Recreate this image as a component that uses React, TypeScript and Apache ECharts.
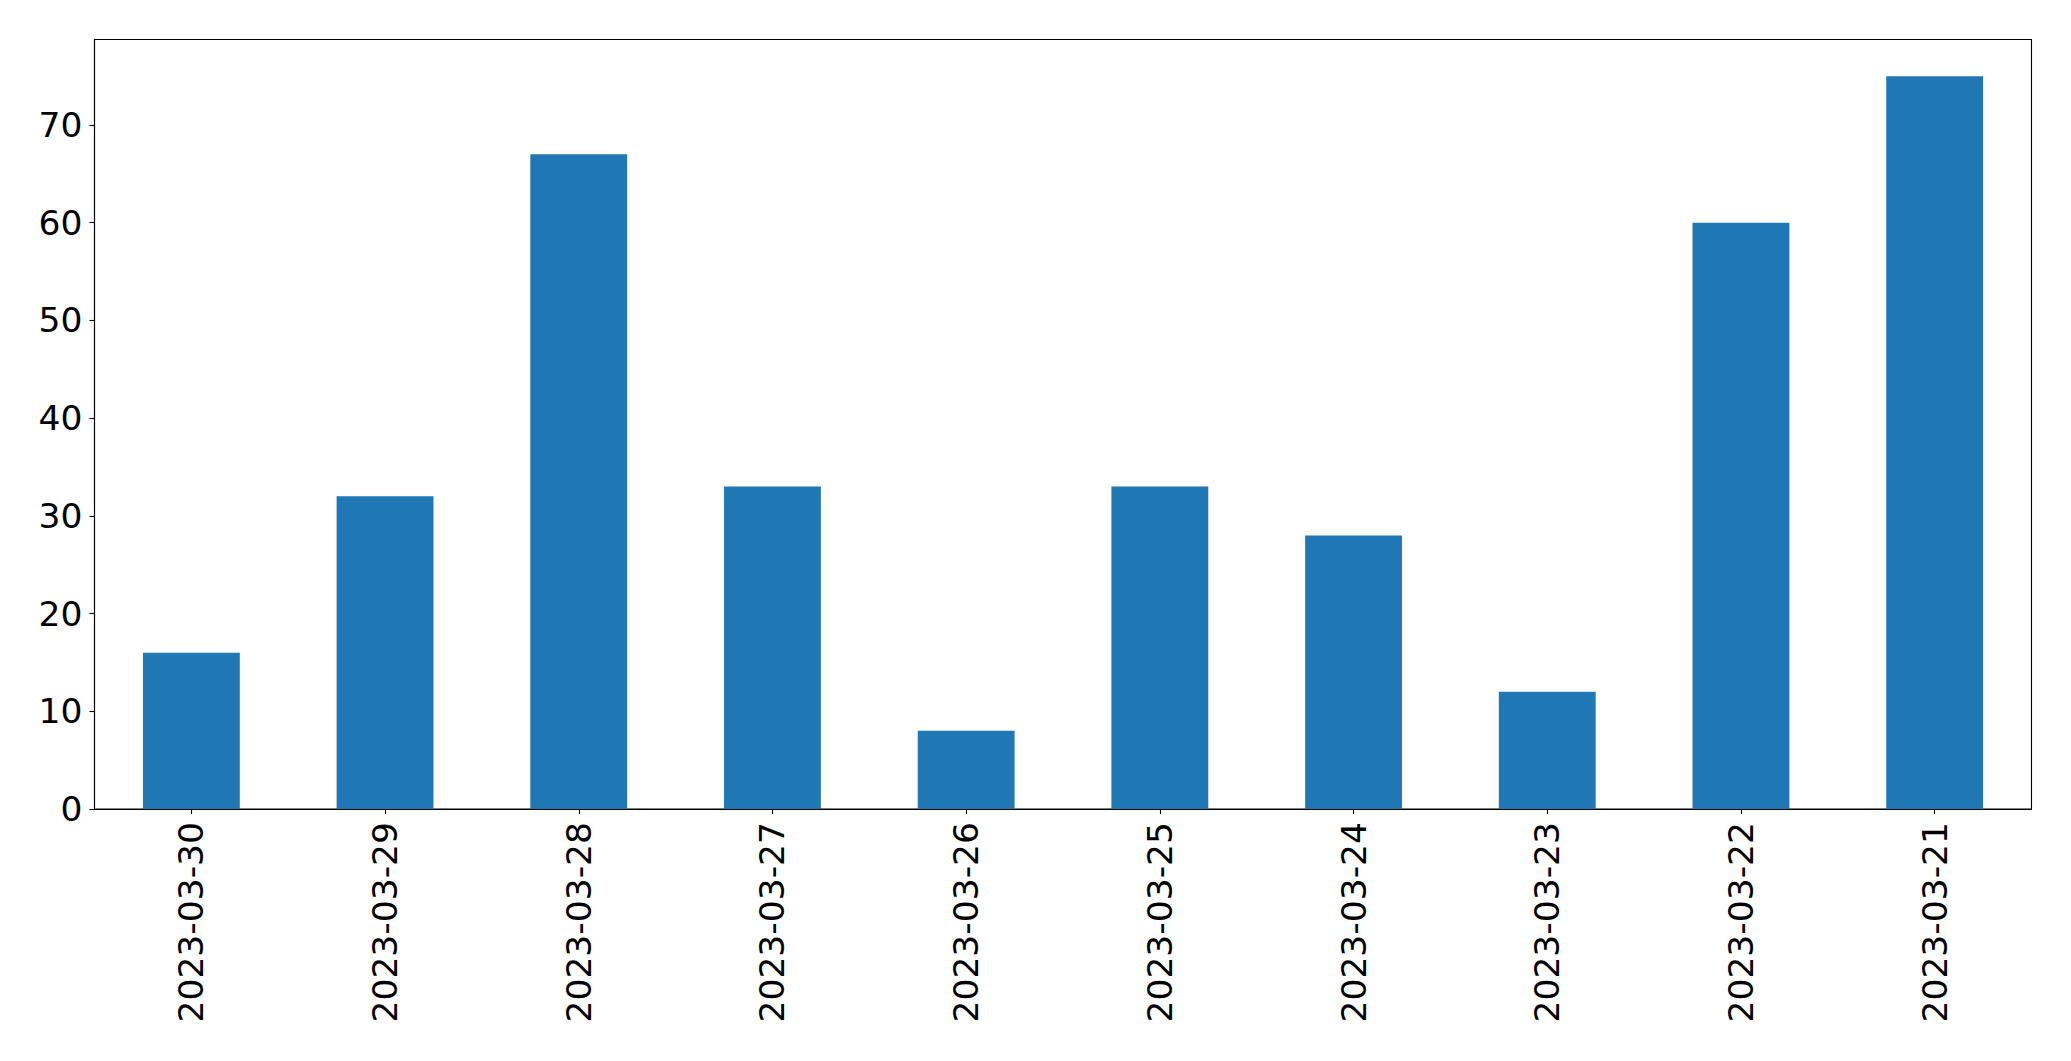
import React, { useEffect, useRef } from "react";
import * as echarts from "echarts";

const categories = [
  "2023-03-30",
  "2023-03-29",
  "2023-03-28",
  "2023-03-27",
  "2023-03-26",
  "2023-03-25",
  "2023-03-24",
  "2023-03-23",
  "2023-03-22",
  "2023-03-21",
];
const values = [16, 32, 67, 33, 8, 33, 28, 12, 60, 75];
const yMax = 78.75;
const yInterval = 10;

export default function App() {
  const ref = useRef<HTMLDivElement>(null);
  useEffect(() => {
    if (!ref.current) return;
    const chart = echarts.init(ref.current, null, { renderer: "svg" });
    const font = "DejaVu Sans";
    chart.setOption({
      animation: false,
      backgroundColor: "#ffffff",
      grid: {
        left: 94.5,
        top: 39.5,
        right: 39.5,
        bottom: 252,
        show: true,
        borderColor: "#000000",
        borderWidth: 1.1,
        backgroundColor: "transparent",
      },
      xAxis: {
        type: "category",
        data: categories,
        axisLine: { show: true, lineStyle: { color: "#000", width: 1.1 } },
        axisTick: { show: true, alignWithLabel: true, length: 5, lineStyle: { color: "#000", width: 1.1 } },
        axisLabel: {
          rotate: 90,
          margin: 13,
          fontSize: 34.5,
          fontFamily: font,
          color: "#000",
          interval: 0,
        },
        splitLine: { show: false },
      },
      yAxis: {
        type: "value",
        min: 0,
        max: yMax,
        interval: yInterval,
        axisLine: { show: true, lineStyle: { color: "#000", width: 1.1 } },
        axisTick: { show: true, length: 5, lineStyle: { color: "#000", width: 1.1 } },
        axisLabel: {
          margin: 12,
          fontSize: 34.5,
          fontFamily: font,
          color: "#000",
          showMaxLabel: false,
        },
        splitLine: { show: false },
      },
      series: [
        {
          type: "bar",
          data: values,
          barCategoryGap: "50%",
          itemStyle: { color: "#1f77b4" },
        },
      ],
    });
    return () => chart.dispose();
  }, []);
  return (
    <div
      ref={ref}
      style={{ position: "fixed", left: 0, top: 0, width: 2071, height: 1061 }}
    />
  );
}
